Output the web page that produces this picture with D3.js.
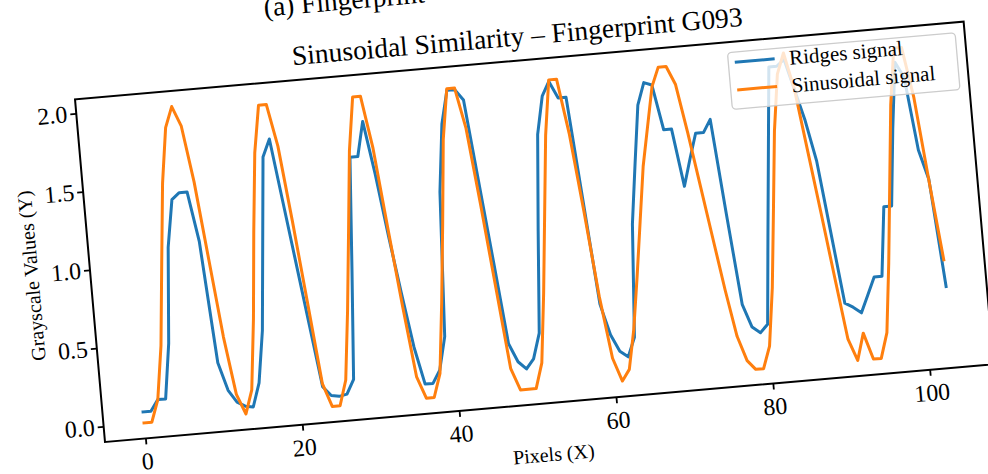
<!DOCTYPE html>
<html><head><meta charset="utf-8">
<script src="https://cdn.jsdelivr.net/npm/d3@7/dist/d3.min.js"></script>
<style>
body{margin:0;background:#fff;}
svg{display:block;}
text{font-family:"Liberation Serif","DejaVu Serif",serif;fill:#000;}
</style>
</head><body>
<svg id="chart" width="988" height="474"></svg>
<script>
// ---- data ----
const pixels = d3.range(0, 104);
const ridges = [
  0.07,0.07,0.14,0.14,0.49,1.10,1.40,1.44,1.44,1.12,
  0.34,0.16,0.08,0.05,0.04,0.19,0.52,1.07,1.62,1.73,
  1.33,0.93,0.53,0.13,0.07,0.06,0.07,0.16,0.85,1.57,
  1.57,1.79,1.45,1.05,0.68,0.33,0.09,0.09,0.17,0.38,
  1.30,1.73,1.94,1.94,1.87,1.35,0.83,0.30,0.18,0.13,
  0.19,0.35,1.00,1.61,1.85,1.94,1.83,1.83,1.17,0.50,
  0.30,0.19,0.15,0.27,0.99,1.37,1.74,1.88,1.86,1.57,
  1.57,1.20,1.37,1.53,1.53,1.61,1.00,0.42,0.27,0.23,
  0.28,0.83,1.37,1.91,1.91,1.95,1.75,1.55,1.29,0.83,
  0.37,0.34,0.30,0.41,0.52,0.52,0.96,0.96,1.45,1.87,
  1.77,1.30,1.11,0.42
];
const sinusoid = [
  0.00,0.00,0.14,0.48,1.00,1.51,1.86,1.99,1.86,1.50,
  1.00,0.50,0.13,0.00,0.15,0.60,1.15,1.65,1.95,1.95,
  1.68,1.20,0.68,0.15,0.00,0.00,0.16,0.60,1.10,1.61,
  1.95,1.95,1.62,1.10,0.60,0.14,0.00,0.00,0.15,0.60,
  1.10,1.63,1.95,1.95,1.69,1.20,0.67,0.14,0.00,0.00,
  0.00,0.16,0.60,1.10,1.60,1.95,1.95,1.60,1.10,0.55,
  0.15,0.00,0.07,0.32,0.65,1.00,1.35,1.60,1.85,1.97,
  1.97,1.85,1.54,1.20,0.86,0.52,0.22,0.06,0.00,0.00,
  0.14,0.51,1.00,1.50,1.86,1.99,1.75,1.35,0.95,0.54,
  0.14,0.00,0.17,0.00,0.00,0.16,0.60,1.10,1.60,1.96,
  1.96,1.64,1.10,0.59
];
const xTicks = [0, 20, 40, 60, 80, 100];
const xTickLabels = ["0", "20", "40", "60", "80", "100"];
const yTicks = [0, 0.5, 1.0, 1.5, 2.0];
const yTickLabels = ["0.0", "0.5", "1.0", "1.5", "2.0"];
const seriesNames = ["Ridges signal", "Sinusoidal signal"];
const seriesColors = ["#1f77b4", "#ff7f0e"];
const titleText = "Sinusoidal Similarity \u2013 Fingerprint G093";
const captionText = "(a) Fingerprint";
const xLabel = "Pixels (X)";
const yLabel = "Grayscale Values (Y)";

// ---- layout ----
const W = 892, H = 344;
const svg = d3.select("#chart");
svg.append("rect").attr("width", 988).attr("height", 474).attr("fill", "#fff");

const root = svg.append("g")
  .attr("transform", "translate(105,442) rotate(-5) translate(0," + (-H) + ")");

function padded(lo, hi) { const r = hi - lo; return [lo - 0.05 * r, hi + 0.05 * r]; }
const allY = ridges.concat(sinusoid);
const x = d3.scaleLinear().domain(padded(d3.min(pixels), d3.max(pixels))).range([0, W]);
const y = d3.scaleLinear().domain(padded(d3.min(allY), d3.max(allY))).range([H, 0]);

root.append("defs").append("clipPath").attr("id", "clip")
  .append("rect").attr("width", W).attr("height", H);

const line = d3.line().x((d, i) => x(pixels[i])).y(d => y(d));
const plot = root.append("g").attr("clip-path", "url(#clip)");
[ridges, sinusoid].forEach((s, k) => {
  plot.append("path").datum(s).attr("d", line)
    .attr("fill", "none").attr("stroke", seriesColors[k])
    .attr("stroke-width", 3).attr("stroke-linejoin", "round").attr("stroke-linecap", "square");
});

// axes
const xAxis = d3.axisBottom(x).tickValues(xTicks).tickFormat((d, i) => xTickLabels[i])
  .tickSize(6).tickPadding(8);
const gx = root.append("g").attr("transform", "translate(0," + H + ")").call(xAxis);
const yAxis = d3.axisLeft(y).tickValues(yTicks).tickFormat((d, i) => yTickLabels[i])
  .tickSize(6).tickPadding(3);
const gy = root.append("g").call(yAxis);
[gx, gy].forEach(g => {
  g.select(".domain").remove();
  g.selectAll(".tick line").attr("stroke", "#000").attr("stroke-width", 1.8);
  g.selectAll(".tick text").style("font-family", "'Liberation Serif',serif")
    .style("font-size", "24px").attr("fill", "#000");
});

// frame
root.append("rect").attr("width", W).attr("height", H)
  .attr("fill", "none").attr("stroke", "#000").attr("stroke-width", 2);

// labels
root.append("text").attr("x", W / 2).attr("y", H + 58).attr("text-anchor", "middle")
  .style("font-size", "20px").text(xLabel);
root.append("text").attr("transform", "translate(-52," + (H / 2) + ") rotate(-90)")
  .attr("text-anchor", "middle").style("font-size", "20px").text(yLabel);
root.append("text").attr("x", W / 2).attr("y", -15).attr("text-anchor", "middle")
  .style("font-size", "27.5px").text(titleText);
root.append("text").attr("x", 196).attr("y", -66).attr("text-anchor", "start")
  .style("font-size", "27.5px").text(captionText);

// legend
const lg = root.append("g").attr("transform", "translate(654,10.4)");
lg.append("rect").attr("width", 228.5).attr("height", 57).attr("rx", 4)
  .attr("fill", "#fff").attr("fill-opacity", 0.8).attr("stroke", "#cccccc").attr("stroke-width", 1.3);
seriesNames.forEach((n, k) => {
  const yy = 10.2 + k * 27.8;
  lg.append("line").attr("x1", 6.5).attr("x2", 46.5).attr("y1", yy).attr("y2", yy)
    .attr("stroke", seriesColors[k]).attr("stroke-width", 3);
  lg.append("text").attr("x", 61).attr("y", yy + 7.3).style("font-size", "21px").text(n);
});
</script>
</body></html>
